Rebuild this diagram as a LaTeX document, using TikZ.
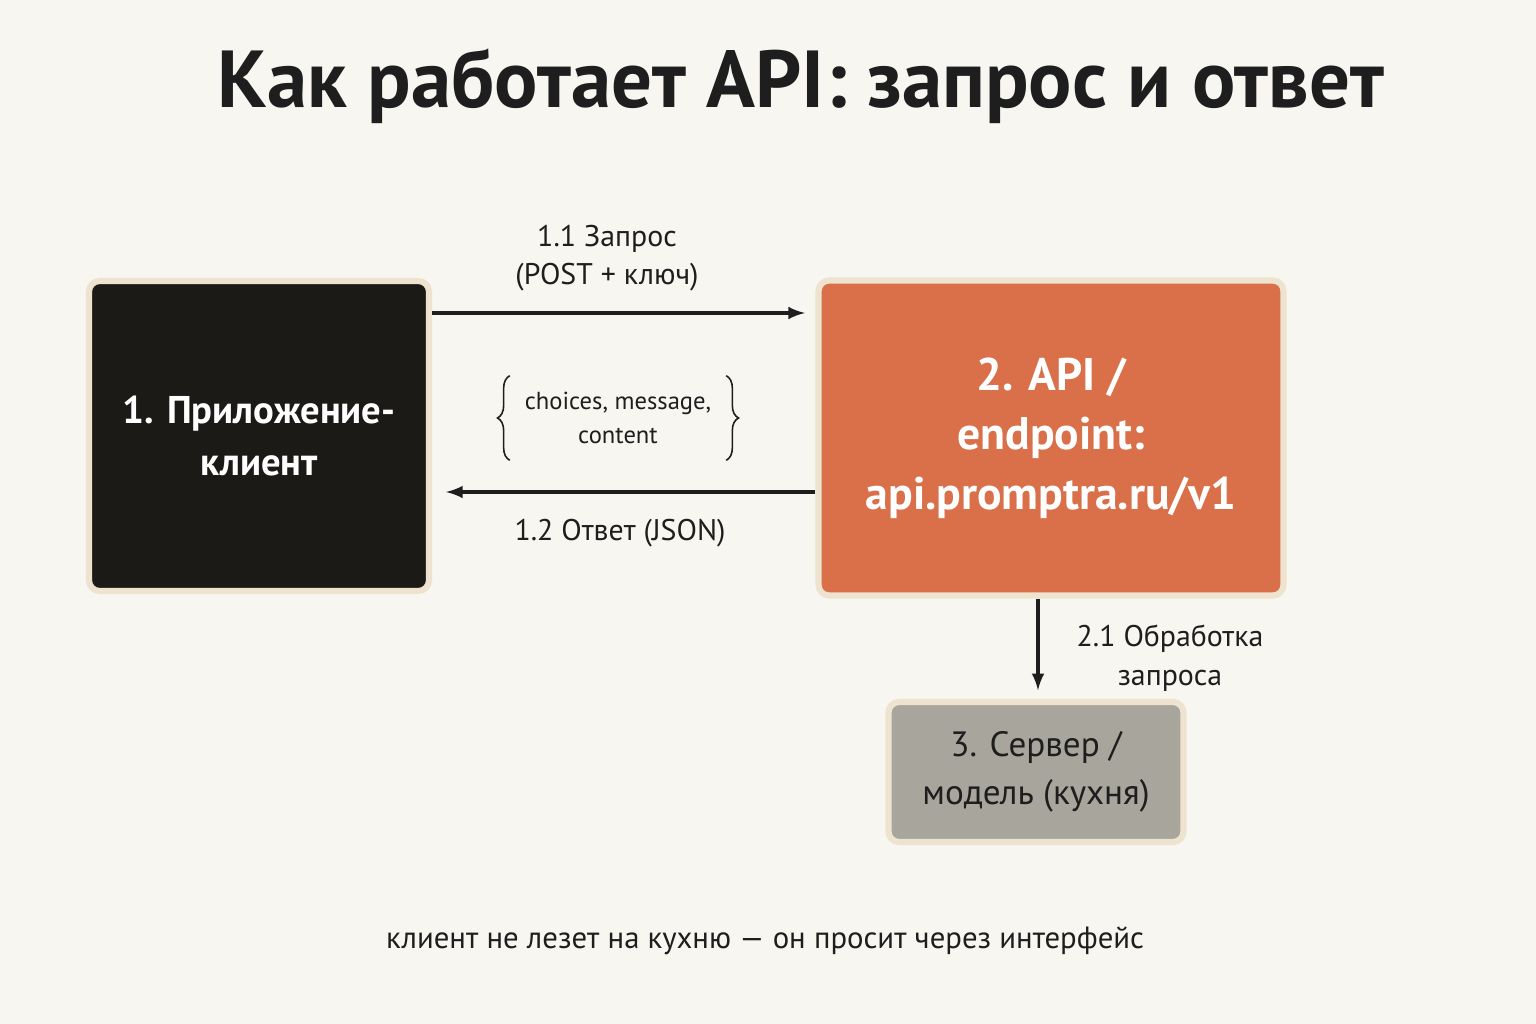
\documentclass[tikz,border=0pt]{standalone}
\usepackage{fontspec}
\setmainfont{PT Sans}
\usetikzlibrary{positioning,decorations.pathreplacing}
\definecolor{bg}{HTML}{F8F6F1}
\definecolor{clientc}{HTML}{1C1A17}
\definecolor{apic}{HTML}{D9704A}
\definecolor{serverc}{HTML}{A8A59C}
\definecolor{rimc}{HTML}{EDE3CF}
\definecolor{inkc}{HTML}{1E1E1E}
\tikzset{
  box/.style={draw=rimc, line width=3.5pt, rounded corners=6pt, align=center, inner sep=0pt},
  flow/.style={draw=inkc, line width=2.2pt, -latex},
  lbl/.style={text=inkc, font=\fontsize{17}{22}\selectfont, align=center},
  curly/.style={draw=inkc, line width=0.9pt, decorate, decoration={brace, amplitude=7pt}}
}
\begin{document}
\begin{tikzpicture}[x=0.02cm, y=-0.02cm]

  \fill[bg] (0,0) rectangle (1536,1024);
  \useasboundingbox (0,0) rectangle (1536,1024);

  \node[text=inkc, font=\fontsize{46}{52}\selectfont\bfseries] (title) at (801,86) {Как работает API: запрос и ответ};

  \node[box, fill=clientc, text=white, minimum width=6.8cm, minimum height=6.2cm,
        font=\fontsize{22}{30}\selectfont\bfseries] (client) at (259,436) {1. Приложение-\\клиент};
  \node[box, fill=apic, text=white, minimum width=9.3cm, minimum height=6.3cm,
        font=\fontsize{26}{34}\selectfont\bfseries] (api) at (1051,438) {2. API /\\endpoint:\\api.promptra.ru/v1};
  \node[box, fill=serverc, text=inkc, minimum width=5.9cm, minimum height=2.8cm,
        font=\fontsize{20}{27}\selectfont] (server) at (1036,772) {3. Сервер /\\модель (кухня)};

  \draw[flow] (client.east |- 0,313) -- ([xshift=-6pt]api.west |- 0,313);
  \draw[flow] (api.west |- 0,492) -- ([xshift=8pt]client.east |- 0,492);
  \draw[flow] (api.south -| 1038,0) -- ([yshift=5pt]server.north -| 1038,0);

  \node[lbl] (reqlbl) at (607,258) {1.1 Запрос\\(POST + ключ)};
  \node[lbl] (reslbl) at (620,533) {1.2 Ответ (JSON)};
  \node[lbl] (dwnlbl) at (1170,658) {2.1 Обработка\\запроса};
  \node[lbl, font=\fontsize{14}{19}\selectfont] (json) at (618,418) {choices, message,\\content};
  \draw[curly] ([xshift=-5pt,yshift=-6pt]json.south west) -- ([xshift=-5pt,yshift=6pt]json.north west);
  \draw[curly] ([xshift=5pt,yshift=6pt]json.north east) -- ([xshift=5pt,yshift=-6pt]json.south east);

  \node[text=inkc, font=\fontsize{17.5}{21}\selectfont] (note) at (765,941) {клиент не лезет на кухню — он просит через интерфейс};

\end{tikzpicture}
\end{document}
